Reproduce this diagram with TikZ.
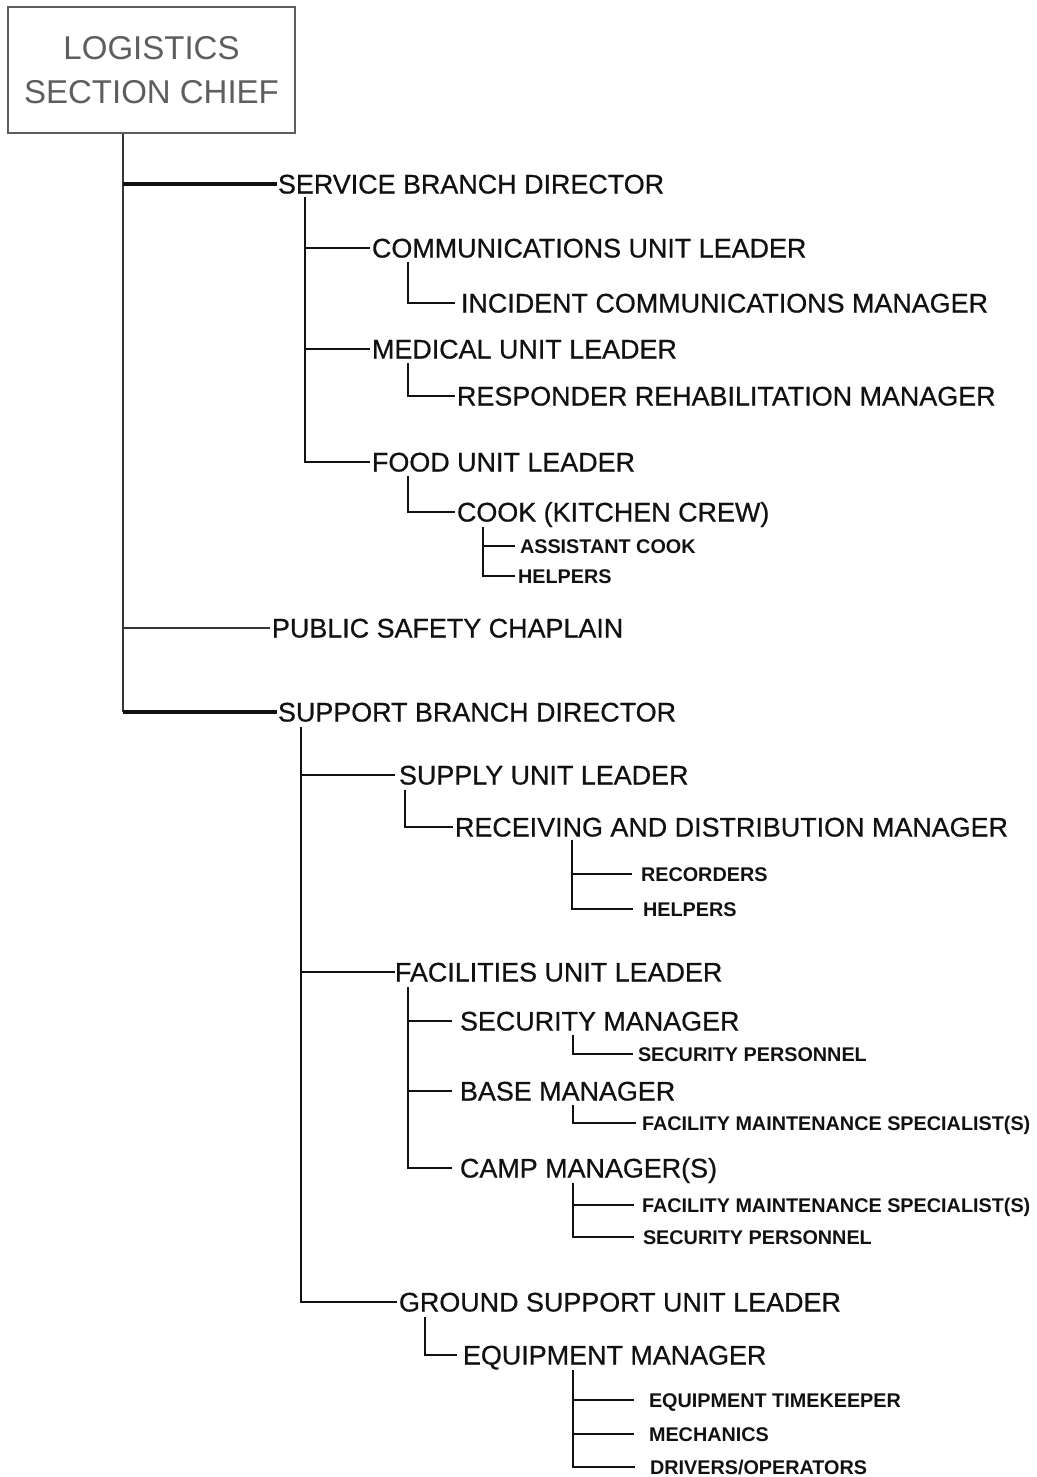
\documentclass[tikz,border=0pt]{standalone}
\usepackage{fontspec}
\setmainfont{Liberation Sans}
\newfontfamily\titlefont{Liberation Sans}[FakeBold=0.6]
\newfontfamily\staffont{Liberation Sans Bold}
\usetikzlibrary{calc}
\definecolor{ink}{HTML}{111111}
\definecolor{boxgray}{HTML}{5E5E5E}
\begin{document}
\begin{tikzpicture}[x=1pt,y=-1pt,
  big/.style={font=\titlefont\fontsize{26.9}{30}\selectfont, text=ink, inner sep=0pt,
    outer sep=0pt, text height=19pt, text depth=0pt, anchor=west},
  small/.style={font=\staffont\fontsize{19.8}{22}\selectfont, text=ink, inner sep=0pt,
    outer sep=0pt, text height=14pt, text depth=0pt, anchor=west},
  chiefbox/.style={draw=boxgray, line width=2pt, text=boxgray, align=center,
    font=\fontsize{33}{44}\selectfont, minimum width=287pt, minimum height=126pt, inner sep=0pt},
  link/.style={draw=ink, line width=2.6pt, shorten >=2pt},
  gap/.style={shorten >=#1},
  heavy/.style={draw=ink, line width=3.8pt, shorten >=1pt},
  spine/.style={draw=ink!85, line width=1.8pt}]
\useasboundingbox[fill=white] (0,0) rectangle (1036,1477);

% top box
\node[chiefbox] (chief) at (151.5,70) {LOGISTICS\\SECTION CHIEF};

% branch and unit titles
\node[big] (svc) at (278,184) {SERVICE BRANCH DIRECTOR};
\node[big] (comm) at (372,248) {COMMUNICATIONS UNIT LEADER};
\node[big] (icm) at (461,303) {INCIDENT COMMUNICATIONS MANAGER};
\node[big] (med) at (372,349) {MEDICAL UNIT LEADER};
\node[big] (rrm) at (457,396) {RESPONDER REHABILITATION MANAGER};
\node[big] (food) at (372,462) {FOOD UNIT LEADER};
\node[big] (cook) at (457,512) {COOK (KITCHEN CREW)};
\node[small] (acook) at (520,546) {ASSISTANT COOK};
\node[small] (fhelp) at (518,576) {HELPERS};
\node[big] (chap) at (272,628) {PUBLIC SAFETY CHAPLAIN};
\node[big] (sup) at (278,712) {SUPPORT BRANCH DIRECTOR};
\node[big] (supply) at (399,775) {SUPPLY UNIT LEADER};
\node[big] (rdm) at (455,827) {RECEIVING AND DISTRIBUTION MANAGER};
\node[small] (rec) at (641,874) {RECORDERS};
\node[small] (rhelp) at (643,909) {HELPERS};
\node[big] (fac) at (395,972) {FACILITIES UNIT LEADER};
\node[big] (secm) at (460,1021) {SECURITY MANAGER};
\node[small] (secp) at (638,1054) {SECURITY PERSONNEL};
\node[big] (base) at (460,1091) {BASE MANAGER};
\node[small] (fms1) at (642,1123) {FACILITY MAINTENANCE SPECIALIST(S)};
\node[big] (camp) at (460,1168) {CAMP MANAGER(S)};
\node[small] (fms2) at (642,1205) {FACILITY MAINTENANCE SPECIALIST(S)};
\node[small] (secp2) at (643,1237) {SECURITY PERSONNEL};
\node[big] (gsu) at (399,1302) {GROUND SUPPORT UNIT LEADER};
\node[big] (eqm) at (463,1355) {EQUIPMENT MANAGER};
\node[small] (eqt) at (649,1400) {EQUIPMENT TIMEKEEPER};
\node[small] (mech) at (649,1434) {MECHANICS};
\node[small] (drv) at (650,1467) {DRIVERS/OPERATORS};

% tops of the vertical trunks
\coordinate (spineT) at (chief.south -| 123,0);
\coordinate (svcT) at (305,197);
\coordinate (commT) at (408,262);
\coordinate (medT) at (408,363);
\coordinate (foodT) at (408,476);
\coordinate (cookT) at (483,527);
\coordinate (supT) at (301,727);
\coordinate (supplyT) at (405,790);
\coordinate (rdmT) at (572,840);
\coordinate (facT) at (408,987);
\coordinate (secmT) at (573,1035);
\coordinate (baseT) at (573,1105);
\coordinate (campT) at (573,1183);
\coordinate (gsuT) at (425,1317);
\coordinate (eqmT) at (573,1370);

% main spine from the section chief
\draw[spine] (spineT) -- (spineT |- sup.west);
\draw[heavy] (spineT |- svc.west) -- (svc.west);
\draw[spine, shorten >=2pt] (spineT |- chap.west) -- (chap.west);
\draw[heavy] (spineT |- sup.west) -- (sup.west);

% service branch
\draw[link] (svcT) |- (comm.west);
\draw[link] (svcT) |- (med.west);
\draw[link] (svcT) |- (food.west);
\draw[link, gap=6pt] (commT) |- (icm.west);
\draw[link] (medT) |- (rrm.west);
\draw[link] (foodT) |- (cook.west);
\draw[link, gap=5pt] (cookT) |- (acook.west);
\draw[link, gap=3pt] (cookT) |- (fhelp.west);

% support branch
\draw[link, gap=4pt] (supT) |- (supply.west);
\draw[link, gap=0pt] (supT) |- (fac.west);
\draw[link, gap=2pt] (supT) |- (gsu.west);
\draw[link] (supplyT) |- (rdm.west);
\draw[link, gap=9pt] (rdmT) |- (rec.west);
\draw[link, gap=10pt] (rdmT) |- (rhelp.west);
\draw[link, gap=8pt] (facT) |- (secm.west);
\draw[link, gap=8pt] (facT) |- (base.west);
\draw[link, gap=8pt] (facT) |- (camp.west);
\draw[link, gap=5pt] (secmT) |- (secp.west);
\draw[link, gap=6pt] (baseT) |- (fms1.west);
\draw[link, gap=8pt] (campT) |- (fms2.west);
\draw[link, gap=9pt] (campT) |- (secp2.west);
\draw[link, gap=6pt] (gsuT) |- (eqm.west);
\draw[link, gap=15pt] (eqmT) |- (eqt.west);
\draw[link, gap=15pt] (eqmT) |- (mech.west);
\draw[link, gap=15pt] (eqmT) |- (drv.west);
\end{tikzpicture}
\end{document}
